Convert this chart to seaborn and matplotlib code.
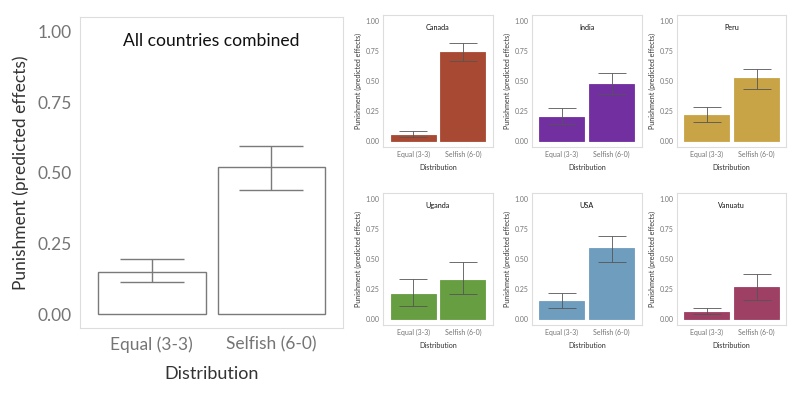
import matplotlib
matplotlib.use("Agg")
import matplotlib.pyplot as plt
import seaborn as sns

# ---------------------------------------------------------------------------
# Data (predicted punishment, with 95% CI bounds)
# ---------------------------------------------------------------------------
distributions = ["Equal (3-3)", "Selfish (6-0)"]

all_mean = [0.15, 0.52]
all_lo = [0.115, 0.44]
all_hi = [0.195, 0.595]

countries = ["Canada", "India", "Peru", "Uganda", "USA", "Vanuatu"]
country_colors = ["#A84A33", "#722FA0", "#C9A447", "#679E42", "#6E9DBE", "#9E3F64"]

canada_mean = [0.05, 0.745]
canada_lo = [0.03, 0.67]
canada_hi = [0.08, 0.82]

india_mean = [0.20, 0.48]
india_lo = [0.145, 0.395]
india_hi = [0.275, 0.565]

peru_mean = [0.215, 0.525]
peru_lo = [0.16, 0.435]
peru_hi = [0.285, 0.605]

uganda_mean = [0.21, 0.33]
uganda_lo = [0.11, 0.21]
uganda_hi = [0.335, 0.48]

usa_mean = [0.15, 0.59]
usa_lo = [0.095, 0.48]
usa_hi = [0.22, 0.695]

vanuatu_mean = [0.06, 0.27]
vanuatu_lo = [0.04, 0.16]
vanuatu_hi = [0.095, 0.375]

country_data = [
    (canada_mean, canada_lo, canada_hi),
    (india_mean, india_lo, india_hi),
    (peru_mean, peru_lo, peru_hi),
    (uganda_mean, uganda_lo, uganda_hi),
    (usa_mean, usa_lo, usa_hi),
    (vanuatu_mean, vanuatu_lo, vanuatu_hi),
]

yticks = [0.0, 0.25, 0.5, 0.75, 1.0]
ytick_labels = ["0.00", "0.25", "0.50", "0.75", "1.00"]

# ---------------------------------------------------------------------------
# Style
# ---------------------------------------------------------------------------
sns.set_theme(style="white")
plt.rcParams["font.family"] = ["Lato", "DejaVu Sans"]

TICK_GREY = "#757575"
LABEL_DARK = "#333333"
FRAME = "#dddddd"


def style_panel(ax, mean, lo, hi, color, edge, title, fs, capsize, lw,
                err_color, title_y):
    sns.barplot(x=distributions, y=mean, color=color, edgecolor=edge,
                linewidth=lw, width=0.9, saturation=1, ax=ax, errorbar=None)
    yerr = [[m - l for m, l in zip(mean, lo)], [h - m for m, h in zip(mean, hi)]]
    ax.errorbar([0, 1], mean, yerr=yerr, fmt="none", ecolor=err_color,
                elinewidth=lw, capsize=capsize, capthick=lw)
    ax.set_xlim(-0.6, 1.6)
    ax.set_ylim(-0.05, 1.05)
    ax.set_yticks(yticks)
    ax.set_yticklabels(ytick_labels)
    ax.tick_params(axis="both", labelsize=fs, colors=TICK_GREY, length=0, pad=fs * 0.5)
    ax.set_xlabel("Distribution", fontsize=fs * 1.05, color=LABEL_DARK,
                  labelpad=fs * 0.9)
    ax.set_ylabel("Punishment (predicted effects)", fontsize=fs * 1.02,
                  color=LABEL_DARK, labelpad=fs * 0.5)
    for s in ax.spines.values():
        s.set_color(FRAME)
        s.set_linewidth(0.8)
    ax.text(0.5, title_y, title, transform=ax.transAxes, ha="center",
            va="center", fontsize=fs * 1.05, color="#111111")


fig = plt.figure(figsize=(8, 3.93), dpi=100)

# main panel: all countries
ax_main = fig.add_axes([0.100, 0.165, 0.329, 0.791])
style_panel(ax_main, all_mean, all_lo, all_hi, "white", "#7a7a7a",
            "All countries combined", 12, 23, 1.0, "#7a7a7a", 0.925)
ax_main.xaxis.label.set_size(13)
ax_main.xaxis.labelpad = 9
ax_main.yaxis.label.set_size(12.5)
ax_main.tick_params(axis="both", labelsize=12.5)

# country panels
lefts = [0.479, 0.665, 0.846]
bottoms = [0.626, 0.173]
width, height = 0.137, 0.335
for i, (name, col, (m, lo, hi)) in enumerate(zip(countries, country_colors, country_data)):
    r, c = divmod(i, 3)
    ax = fig.add_axes([lefts[c], bottoms[r], width, height])
    style_panel(ax, m, lo, hi, col, col, name, 5.0, 10, 0.6, "#555555", 0.91)

plt.savefig("out.png", dpi=100)
